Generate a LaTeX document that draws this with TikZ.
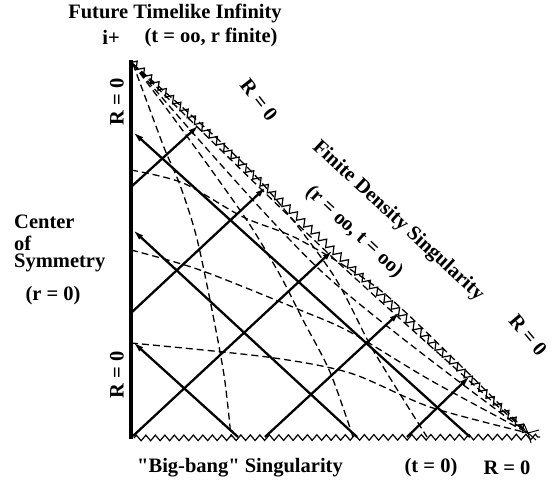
\documentclass[tikz,border=0pt]{standalone}
\usepackage{fontspec}
\setmainfont{Liberation Serif}[Ligatures=TeXOff]
\usetikzlibrary{decorations.pathmorphing,arrows.meta}
\begin{document}
\begin{tikzpicture}[x=1pt,y=-1pt,
  ray/.style={line width=2.3pt},
  rayarrow/.style={ray,-{Latex[length=11pt,width=6pt]}},
  curve/.style={line width=1.3pt,dash pattern=on 7pt off 4pt},
  sing/.style={line width=1.2pt,decorate,decoration={zigzag,segment length=10pt,amplitude=3.5pt}},
  bsing/.style={line width=1.2pt,decorate,decoration={zigzag,segment length=9.5pt,amplitude=2.8pt}},
  star/.style={line width=1pt},
  lbl/.style={font=\bfseries\fontsize{20.5}{22}\selectfont, inner sep=0pt}]
\useasboundingbox (0,0) rectangle (552,489);
% corners
\coordinate (O) at (133,62);
\coordinate (BL) at (131,437);
\coordinate (RC) at (528,433);
\coordinate (BE) at (540,437);
% boundaries
\draw[line width=4.5pt] (131,60) -- (131,439);
\draw[sing] (O) -- (RC);
\draw[bsing] (134,438) -- (BE);
% small star where the curves meet at the right corner
\draw[star] (RC) -- ++(11,-3);
\draw[star] (RC) -- ++(8,7);
\draw[star] (RC) -- ++(3,10);
\draw[star] (RC) -- ++(-4,-9);
% dashed curves (constant r)
\draw[curve] plot[smooth] coordinates {(133,64) (150,110) (165,150) (180,185) (196,235) (210,300) (224,375) (231,437)};
\draw[curve] plot[smooth] coordinates {(133,64) (175,120) (215,175) (250,225) (280,275) (303,320) (330,372) (353,437)};
\draw[curve] plot[smooth] coordinates {(133,64) (250,170) (330,270) (373,350) (427,437)};
\draw[curve] plot[smooth] coordinates {(133,64) (330,255) (528,433)};
\draw[curve] plot[smooth] coordinates {(133,64) (320,270) (528,433)};
% dashed curves (constant t)
\draw[curve] plot[smooth] coordinates {(131,170) (183,183) (243,217) (300,240) (380,290) (460,365) (528,433)};
\draw[curve] plot[smooth] coordinates {(131,250) (200,270) (300,310) (350,332) (430,380) (528,433)};
\draw[curve] plot[smooth] coordinates {(131,343) (267,357) (350,373) (430,407) (528,433)};
% null rays
\coordinate (a1s) at (131,187); \coordinate (a1e) at (199,125);
\coordinate (a2s) at (131,313); \coordinate (a2e) at (266,187);
\coordinate (a3s) at (133,436); \coordinate (a3e) at (333,250);
\coordinate (a4s) at (265,437); \coordinate (a4e) at (400,312);
\coordinate (a5s) at (407,437); \coordinate (a5e) at (470,376);
\draw[rayarrow] (a1s) -- (a1e);
\draw[rayarrow] (a2s) -- (a2e);
\draw[rayarrow] (a3s) -- (a3e);
\draw[rayarrow] (a4s) -- (a4e);
\draw[rayarrow] (a5s) -- (a5e);
\coordinate (b1s) at (470,437); \coordinate (b1e) at (133,132);
\coordinate (b2s) at (357,437); \coordinate (b2e) at (133,230);
\coordinate (b3s) at (238,437); \coordinate (b3e) at (133,342);
\draw[rayarrow] (b1s) -- (b1e);
\draw[rayarrow] (b2s) -- (b2e);
\draw[rayarrow] (b3s) -- (b3e);
% labels
\node[lbl] (top1) at (175,13) {Future Timelike Infinity};
\node[lbl] (ip) at (111,37) {i+};
\node[lbl] (top2) at (211,37) {(t = oo, r finite)};
\node[lbl,rotate=90] (rl1) at (117,102) {R = 0};
\node[lbl,rotate=90] (rl2) at (117,375) {R = 0};
\node[lbl,anchor=west] (c1) at (14,222) {Center};
\node[lbl,anchor=west] (c2) at (14,243) {of};
\node[lbl,anchor=west] (c3) at (14,263) {Symmetry};
\node[lbl] (c4) at (53,296) {(r = 0)};
\node[lbl,rotate=-52] (rd) at (259,100) {R = 0};
\node[lbl,rotate=-42.7] (fd1) at (398,221) {Finite Density Singularity};
\node[lbl,rotate=-42.7] (fd2) at (354,232) {(r = oo, t = oo)};
\node[lbl,rotate=-50] (rr) at (528,335) {R = 0};
\node[lbl] (bb) at (240,468) {"Big-bang" Singularity};
\node[lbl] (bt) at (431,468) {(t = 0)};
\node[lbl] (br) at (507,468) {R = 0};
\end{tikzpicture}
\end{document}
